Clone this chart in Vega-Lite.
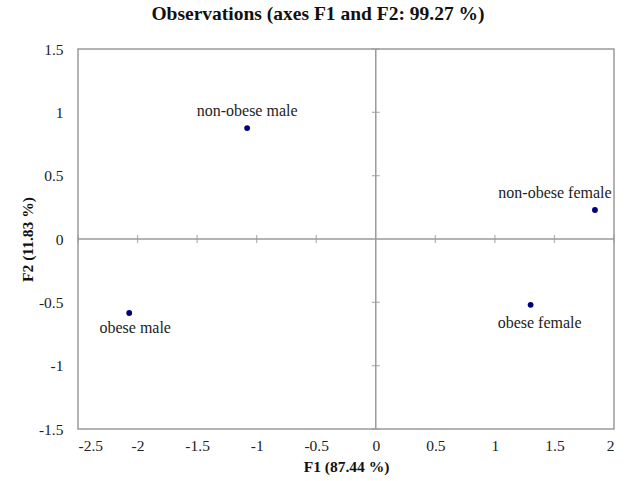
{
  "$schema": "https://vega.github.io/schema/vega-lite/v6.json",
  "autosize": "none",
  "width": 536,
  "height": 380,
  "padding": {"left": 78, "top": 49, "right": 14, "bottom": 52},
  "background": "white",
  "config": {
    "font": "Liberation Serif",
    "view": {"stroke": "#9a9a9a", "strokeWidth": 1.5},
    "axis": {"grid": false, "ticks": false, "domain": false, "labelFont": "Liberation Serif", "labelFontSize": 15.5, "labelColor": "#222", "titleFont": "Liberation Serif", "titleFontSize": 15.5, "titleColor": "#111", "titleFontWeight": "bold"},
    "text": {"font": "Liberation Serif"}
  },
  "title": {"text": "Observations (axes F1 and F2: 99.27 %)", "font": "Liberation Serif", "fontSize": 19.5, "fontWeight": "bold", "color": "#111", "offset": 18, "dx": -28},
  "datasets": {
    "obs": [
      {"label": "non-obese male", "F1": -1.08, "F2": 0.876},
      {"label": "non-obese female", "F1": 1.84, "F2": 0.229},
      {"label": "obese male", "F1": -2.07, "F2": -0.584},
      {"label": "obese female", "F1": 1.30, "F2": -0.52}
    ],
    "xt": [{"v": -2.5}, {"v": -2}, {"v": -1.5}, {"v": -1}, {"v": -0.5}, {"v": 0.5}, {"v": 1}, {"v": 1.5}, {"v": 2}],
    "yt": [{"v": -1.5}, {"v": -1}, {"v": -0.5}, {"v": 0.5}, {"v": 1}, {"v": 1.5}],
    "zero": [{"v": 0}]
  },
  "layer": [
    {
      "data": {"name": "zero"},
      "mark": {"type": "rule", "color": "#9a9a9a", "strokeWidth": 1.5},
      "encoding": {
        "x": {"field": "v", "type": "quantitative", "scale": {"domain": [-2.5, 2]}}
      }
    },
    {
      "data": {"name": "zero"},
      "mark": {"type": "rule", "color": "#9a9a9a", "strokeWidth": 1.5},
      "encoding": {
        "y": {"field": "v", "type": "quantitative", "scale": {"domain": [-1.5, 1.5]}}
      }
    },
    {
      "data": {"name": "xt"},
      "mark": {"type": "tick", "orient": "vertical", "color": "#9a9a9a", "size": 8, "thickness": 1.3},
      "encoding": {
        "x": {"field": "v", "type": "quantitative"},
        "y": {"datum": 0, "type": "quantitative"}
      }
    },
    {
      "data": {"name": "yt"},
      "mark": {"type": "tick", "orient": "horizontal", "color": "#9a9a9a", "size": 8, "thickness": 1.3},
      "encoding": {
        "y": {"field": "v", "type": "quantitative"},
        "x": {"datum": 0, "type": "quantitative"}
      }
    },
    {
      "data": {"name": "obs"},
      "mark": {"type": "point", "filled": true, "color": "#00007f", "size": 34, "opacity": 1},
      "encoding": {
        "x": {"field": "F1", "type": "quantitative", "scale": {"domain": [-2.5, 2], "nice": false, "zero": false},
              "axis": {"title": "F1 (87.44 %)", "values": [-2.5, -2, -1.5, -1, -0.5, 0, 0.5, 1, 1.5, 2], "labelExpr": "'' + datum.value", "labelFont": "Liberation Serif", "labelPadding": 9, "titlePadding": 6}},
        "y": {"field": "F2", "type": "quantitative", "scale": {"domain": [-1.5, 1.5], "nice": false, "zero": false},
              "axis": {"title": "F2 (11.83 %)", "values": [-1.5, -1, -0.5, 0, 0.5, 1, 1.5], "labelExpr": "'' + datum.value", "labelFont": "Liberation Serif", "labelPadding": 15, "titlePadding": 3}}
      }
    },
    {
      "data": {"name": "obs"},
      "transform": [{"filter": "datum.label == 'non-obese male'"}],
      "mark": {"type": "text", "font": "Liberation Serif", "fontSize": 16, "color": "#222", "dy": -17, "baseline": "middle"},
      "encoding": {"x": {"field": "F1", "type": "quantitative"}, "y": {"field": "F2", "type": "quantitative"}, "text": {"field": "label"}}
    },
    {
      "data": {"name": "obs"},
      "transform": [{"filter": "datum.label == 'non-obese female'"}],
      "mark": {"type": "text", "font": "Liberation Serif", "fontSize": 16, "color": "#222", "dx": -40, "dy": -17, "baseline": "middle"},
      "encoding": {"x": {"field": "F1", "type": "quantitative"}, "y": {"field": "F2", "type": "quantitative"}, "text": {"field": "label"}}
    },
    {
      "data": {"name": "obs"},
      "transform": [{"filter": "datum.label == 'obese male'"}],
      "mark": {"type": "text", "font": "Liberation Serif", "fontSize": 16, "color": "#222", "dx": 6, "dy": 15, "baseline": "middle"},
      "encoding": {"x": {"field": "F1", "type": "quantitative"}, "y": {"field": "F2", "type": "quantitative"}, "text": {"field": "label"}}
    },
    {
      "data": {"name": "obs"},
      "transform": [{"filter": "datum.label == 'obese female'"}],
      "mark": {"type": "text", "font": "Liberation Serif", "fontSize": 16, "color": "#222", "dx": 9, "dy": 18, "baseline": "middle"},
      "encoding": {"x": {"field": "F1", "type": "quantitative"}, "y": {"field": "F2", "type": "quantitative"}, "text": {"field": "label"}}
    }
  ]
}
